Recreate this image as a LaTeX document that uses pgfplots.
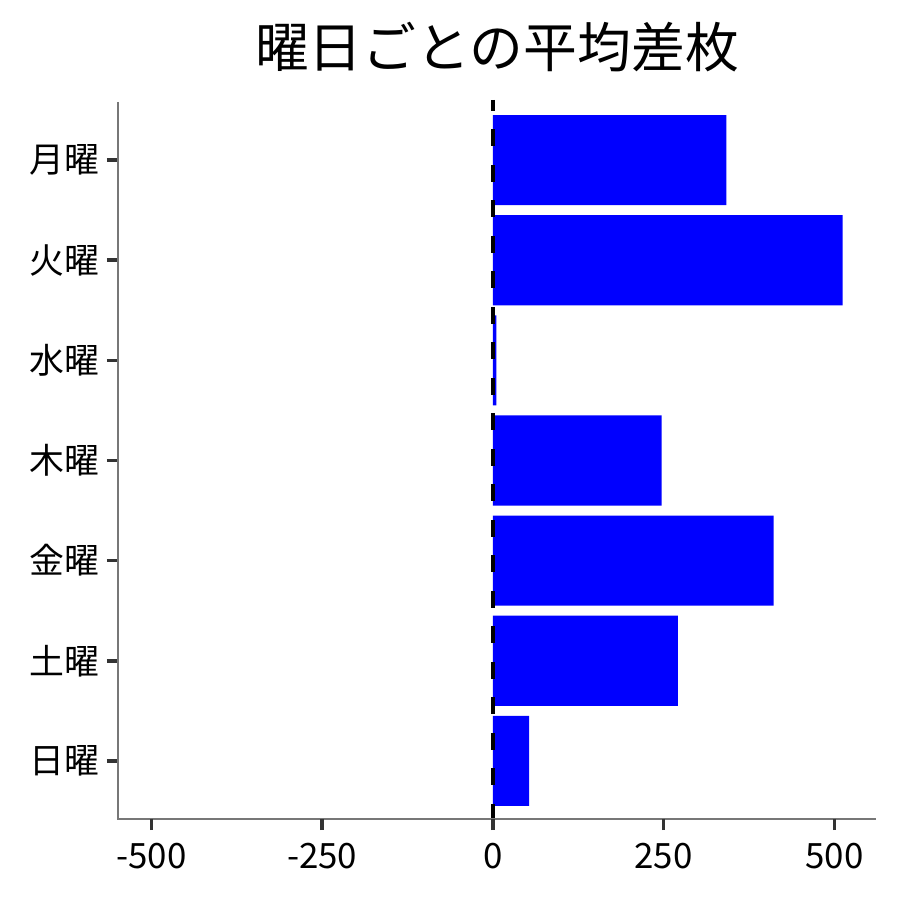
\documentclass[border=0pt]{standalone}
\usepackage{fontspec}
\setmainfont{Noto Sans CJK JP}
\usepackage{pgfplots}
\pgfplotsset{compat=1.18}
\definecolor{spine}{HTML}{777777}
\definecolor{tickc}{HTML}{333333}
\begin{document}
\begin{tikzpicture}
\begin{axis}[
  at={(118bp,81bp)}, anchor=south west,
  scale only axis, width=758bp, height=717bp,
  xmin=-549, xmax=561,
  ymin=-0.58, ymax=6.58,
  xtick={-500,-250,0,250,500},
  ytick={0,...,6},
  yticklabels={日曜,土曜,金曜,木曜,水曜,火曜,月曜},
  axis line style={draw=none},
  xtick pos=bottom, ytick pos=left,
  tick align=outside,
  every tick/.style={draw=tickc, line width=3.5bp},
  major tick length=11bp,
  tick label style={font=\fontsize{35}{40}\selectfont},
  /pgf/number format/assume math mode=true,
  /pgf/number format/1000 sep={},
  xticklabel style={yshift=-10bp},
  yticklabel style={xshift=-4bp},
  title={曜日ごとの平均差枚},
  title style={font=\fontsize{54}{60}\selectfont, yshift=20bp},
  clip=false,
  after end axis/.code={
    \draw[spine, line width=1.2bp] (rel axis cs:0,1) -- (rel axis cs:0,0) -- (rel axis cs:1,0);
    \foreach \t in {-500,-250,0,250,500}{
      \draw[tickc, line width=3.5bp] (axis cs:\t,-0.58) -- ++(0,-11bp);
    }
  },
]
\addplot[xbar, bar width=0.9, bar shift=0pt, draw=none, fill=blue] coordinates {
  (53,0) (271,1) (411,2) (247,3) (5,4) (512,5) (342,6)
};
\addplot[black, line width=4.5bp, dash pattern=on 17bp off 18.5bp, dash phase=6bp] coordinates {(0,6.6) (0,-0.58)};
\end{axis}
\pgfresetboundingbox
\path[use as bounding box] (0,0) rectangle (900bp,900bp);
\end{tikzpicture}
\end{document}
